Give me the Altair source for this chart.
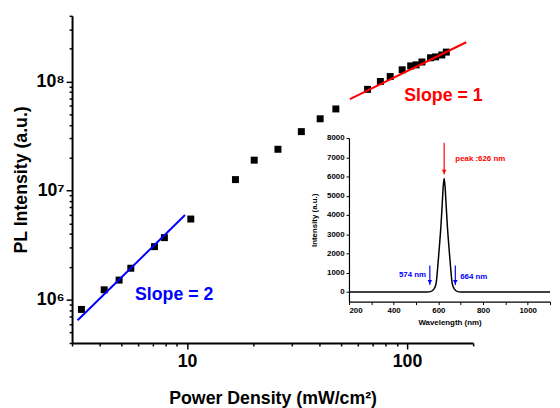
import altair as alt
import pandas as pd

# Main data: PL intensity vs power density
power = [3.31, 4.20, 4.91, 5.55, 7.11, 7.89, 10.4, 16.6, 20.2, 25.9, 33.1, 40.3, 47.5,
         66.2, 75.7, 83.9, 95.1, 104, 110, 117, 128, 135, 144, 151]
pl = [8.13e5, 1.23e6, 1.51e6, 1.94e6, 3.06e6, 3.70e6, 5.48e6, 1.26e7, 1.90e7, 2.39e7,
      3.47e7, 4.55e7, 5.60e7, 8.47e7, 1.0e8, 1.11e8, 1.28e8, 1.39e8, 1.42e8, 1.51e8,
      1.65e8, 1.68e8, 1.75e8, 1.86e8]

# Fitted lines
fit2_x = [3.18, 9.79]
fit2_y = [6.47e5, 5.96e6]
fit1_x = [55.0, 186.0]
fit1_y = [6.89e7, 2.29e8]

slope_labels = ["Slope = 2", "Slope = 1"]
slope_x = [8.74, 146.5]
slope_y = [1.09e6, 7.33e7]
slope_colors = ["#0000FF", "#FF0000"]

# Inset spectrum
wl = [200, 300, 400, 500, 550, 565, 580, 590, 598, 605, 612, 618, 622, 626, 630, 634,
      640, 647, 654, 662, 672, 687, 700, 800, 900, 1000, 1100]
inten = [0, 0, 0, 0, 0, 20, 150, 450, 1400, 2400, 3500, 4700, 5500, 5900, 5500, 4700,
         3500, 2400, 1400, 450, 150, 20, 0, 0, 0, 0, 0]

arrow_x = [626, 562, 676]
arrow_top = [7750, 1380, 1380]
arrow_bottom = [6100, 360, 360]
arrow_colors = ["#FF0000", "#0000FF", "#0000FF"]

annL_text = ["peak :626 nm", "664 nm"]
annL_x = [676, 698]
annL_y = [6920, 770]
annL_colors = ["#FF0000", "#0000FF"]
annR_text = ["574 nm"]
annR_x = [545]
annR_y = [870]

x_ticks = [3, 4, 5, 6, 7, 8, 9, 10, 20, 30, 40, 50, 60, 70, 80, 90, 100, 200]
y_ticks = [4e5, 5e5, 6e5, 7e5, 8e5, 9e5,
           1e6, 2e6, 3e6, 4e6, 5e6, 6e6, 7e6, 8e6, 9e6,
           1e7, 2e7, 3e7, 4e7, 5e7, 6e7, 7e7, 8e7, 9e7,
           1e8, 2e8, 3e8, 4e8]
wl_ticks = list(range(200, 1101, 100))
int_ticks = list(range(0, 8001, 1000))

FONT = "Liberation Sans"

df_pts = pd.DataFrame({"power": power, "pl": pl})
df_f2 = pd.DataFrame({"power": fit2_x, "pl": fit2_y})
df_f1 = pd.DataFrame({"power": fit1_x, "pl": fit1_y})
df_slope = pd.DataFrame({"t": slope_labels, "power": slope_x, "pl": slope_y, "c": slope_colors})

xscale = alt.Scale(type="log", domain=[3, 200], nice=False)
yscale = alt.Scale(type="log", domain=[4e5, 4e8], nice=False)

x_axis = alt.Axis(
    title="Power Density (mW/cm²)", values=x_ticks, grid=False, labelOverlap=False,
    labelExpr="datum.value == 10 ? '10' : datum.value == 100 ? '100' : ''",
    tickSize={"condition": {"test": "datum.value == 10 || datum.value == 100", "value": 6}, "value": 3},
    labelPadding=4, labelFontSize=18, titleFontSize=18, titlePadding=19,
)
y_axis = alt.Axis(
    title="PL Intensity (a.u.)", values=y_ticks, grid=False, labelOverlap=False,
    labelExpr="datum.value == 1e6 ? '10⁶' : datum.value == 1e7 ? '10⁷' : datum.value == 1e8 ? '10⁸' : ''",
    tickSize={"condition": {"test": "datum.value == 1e6 || datum.value == 1e7 || datum.value == 1e8", "value": 6}, "value": 3},
    labelPadding=2, labelFontSize=18, titleFontSize=18, titlePadding=6,
)

pts = alt.Chart(df_pts).mark_square(size=50, color="black", opacity=1).encode(
    x=alt.X("power:Q", scale=xscale, axis=x_axis),
    y=alt.Y("pl:Q", scale=yscale, axis=y_axis),
)
line2 = alt.Chart(df_f2).mark_line(color="#0000FF", strokeWidth=2).encode(
    x=alt.X("power:Q", scale=xscale), y=alt.Y("pl:Q", scale=yscale))
line1 = alt.Chart(df_f1).mark_line(color="#FF0000", strokeWidth=2).encode(
    x=alt.X("power:Q", scale=xscale), y=alt.Y("pl:Q", scale=yscale))
slopes = alt.Chart(df_slope).mark_text(font=FONT, fontWeight="bold", fontSize=18, align="center", baseline="middle").encode(
    x=alt.X("power:Q", scale=xscale), y=alt.Y("pl:Q", scale=yscale), text="t:N",
    color=alt.Color("c:N", scale=None))

main = alt.layer(pts, line2, line1, slopes)

# Inset
df_spec = pd.DataFrame({"wl": wl, "i": inten})
df_arrow = pd.DataFrame({"wl": arrow_x, "top": arrow_top, "bot": arrow_bottom, "c": arrow_colors})
df_annL = pd.DataFrame({"t": annL_text, "wl": annL_x, "i": annL_y, "c": annL_colors})
df_annR = pd.DataFrame({"t": annR_text, "wl": annR_x, "i": annR_y})

wscale = alt.Scale(domain=[200, 1100], range=[281, 485], nice=False)
iscale = alt.Scale(domain=[-500, 8000], range=[290, 124], nice=False)

w_axis = alt.Axis(
    title="Wavelength (nm)", orient="bottom", offset=-42, values=wl_ticks, grid=False,
    labelOverlap=False,
    labelExpr="datum.value % 200 == 0 ? '' + datum.value : ''",
    tickSize=3, labelPadding=2, labelFontSize=8, titleFontSize=8, titlePadding=4,
    domainWidth=1.2, tickWidth=1,
)
i_axis = alt.Axis(
    title="Intensity (a.u.)", orient="left", offset=-281, values=int_ticks, grid=False,
    labelOverlap=False, format="d",
    tickSize=3, labelPadding=2, labelFontSize=8, titleFontSize=8, titlePadding=8,
    domainWidth=1.2, tickWidth=1,
)

spec = alt.Chart(df_spec).mark_line(color="black", strokeWidth=1.5, interpolate="monotone").encode(
    x=alt.X("wl:Q", scale=wscale, axis=w_axis),
    y=alt.Y("i:Q", scale=iscale, axis=i_axis),
)
arrows = alt.Chart(df_arrow).mark_rule(strokeWidth=1.2).encode(
    x=alt.X("wl:Q", scale=wscale), y=alt.Y("top:Q", scale=iscale), y2="bot:Q",
    color=alt.Color("c:N", scale=None))
heads = alt.Chart(df_arrow).mark_point(shape="triangle-down", filled=True, size=22, opacity=1, yOffset=-3).encode(
    x=alt.X("wl:Q", scale=wscale), y=alt.Y("bot:Q", scale=iscale),
    color=alt.Color("c:N", scale=None))
annsL = alt.Chart(df_annL).mark_text(font=FONT, fontWeight="bold", fontSize=8, baseline="middle", align="left").encode(
    x=alt.X("wl:Q", scale=wscale), y=alt.Y("i:Q", scale=iscale), text="t:N",
    color=alt.Color("c:N", scale=None))
annsR = alt.Chart(df_annR).mark_text(font=FONT, fontWeight="bold", fontSize=8, baseline="middle", align="right", color="#0000FF").encode(
    x=alt.X("wl:Q", scale=wscale), y=alt.Y("i:Q", scale=iscale), text="t:N")

inset = alt.layer(spec, arrows, heads, annsL, annsR)

chart = alt.layer(main, inset).resolve_scale(x="independent", y="independent").properties(
    width=407, height=332,
    padding={"left": 65, "top": 5, "right": 80, "bottom": 63},
    autosize=alt.AutoSizeParams(type="none"),
    background="white",
).configure_view(stroke=None).configure_axis(
    labelFont=FONT, titleFont=FONT, labelFontWeight="bold", titleFontWeight="bold",
    labelColor="black", titleColor="black", domainColor="black", tickColor="black",
    domainWidth=2, tickWidth=1.5,
)

chart.save("out.html", embed_options={"renderer": "svg", "actions": False})
